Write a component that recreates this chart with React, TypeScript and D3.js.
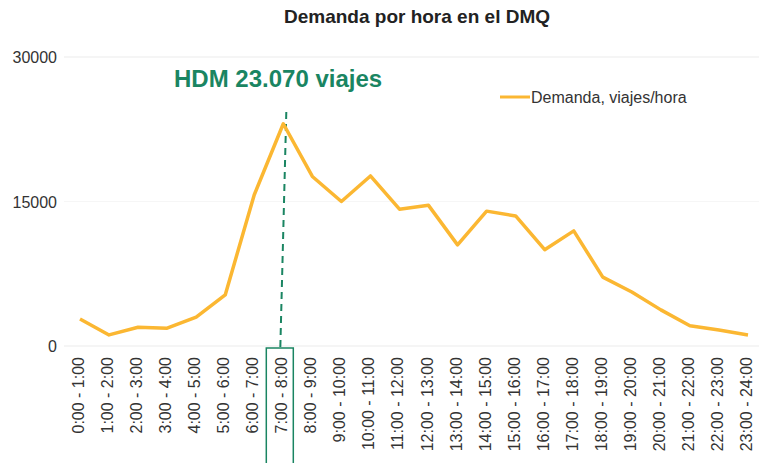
import React, { useEffect, useRef } from "react";
import * as d3 from "d3";

const horas = [
  "0:00 - 1:00", "1:00 - 2:00", "2:00 - 3:00", "3:00 - 4:00", "4:00 - 5:00",
  "5:00 - 6:00", "6:00 - 7:00", "7:00 - 8:00", "8:00 - 9:00", "9:00 - 10:00",
  "10:00 - 11:00", "11:00 - 12:00", "12:00 - 13:00", "13:00 - 14:00",
  "14:00 - 15:00", "15:00 - 16:00", "16:00 - 17:00", "17:00 - 18:00",
  "18:00 - 19:00", "19:00 - 20:00", "20:00 - 21:00", "21:00 - 22:00",
  "22:00 - 23:00", "23:00 - 24:00",
];
const demanda = [
  2800, 1150, 1950, 1850, 3000, 5300, 15700, 23070, 17600, 15000, 17650, 14200,
  14600, 10500, 14000, 13500, 10000, 11950, 7150, 5600, 3750, 2100, 1650, 1150,
];
const yTicks = [0, 15000, 30000];
const horaPico = "7:00 - 8:00";

const W = 759;
const H = 463;
const green = "#1a8562";
const orange = "#fbb732";

export default function App() {
  const ref = useRef<SVGSVGElement>(null);

  useEffect(() => {
    const svg = d3.select(ref.current);
    svg.selectAll("*").remove();

    const x = d3.scalePoint<string>().domain(horas).range([80, 748]);
    const y = d3.scaleLinear().domain([0, 30000]).range([346, 57]);

    // title
    svg.append("text")
      .attr("x", 417).attr("y", 23)
      .attr("text-anchor", "middle")
      .attr("font-size", 19).attr("font-weight", "bold")
      .attr("fill", "#222")
      .text("Demanda por hora en el DMQ");

    // gridlines + y labels
    const gy = svg.append("g");
    gy.selectAll("line").data(yTicks).join("line")
      .attr("x1", 64).attr("x2", W)
      .attr("y1", (d) => y(d)).attr("y2", (d) => y(d))
      .attr("stroke", (d) => (d === 15000 ? "#f6f6f6" : "#ebebeb"))
      .attr("stroke-width", 1);
    gy.selectAll("text").data(yTicks).join("text")
      .attr("x", 57).attr("y", (d) => y(d) + 6)
      .attr("text-anchor", "end")
      .attr("font-size", 16).attr("fill", "#333")
      .text((d) => String(d));

    // x labels
    svg.append("g").selectAll("text").data(horas).join("text")
      .attr("transform", (d) => `translate(${x(d)! + 4},357) rotate(-90)`)
      .attr("text-anchor", "end")
      .attr("font-size", 16).attr("fill", "#333")
      .text((d) => d);

    // peak marker
    const px = x(horaPico)!;
    svg.append("rect")
      .attr("x", px - 17).attr("y", 348)
      .attr("width", 27).attr("height", 130)
      .attr("fill", "none").attr("stroke", green).attr("stroke-width", 1.5);
    svg.append("line")
      .attr("x1", px + 3).attr("x2", px - 3)
      .attr("y1", 112).attr("y2", 348)
      .attr("stroke", green).attr("stroke-width", 2)
      .attr("stroke-dasharray", "7,5");

    // series
    const line = d3.line<number>()
      .x((_, i) => x(horas[i])!)
      .y((d) => y(d));
    svg.append("path")
      .datum(demanda)
      .attr("d", line)
      .attr("fill", "none")
      .attr("stroke", orange)
      .attr("stroke-width", 3.5)
      .attr("stroke-linejoin", "round");

    // annotation
    svg.append("text")
      .attr("x", 174).attr("y", 87)
      .attr("font-size", 24).attr("font-weight", "bold")
      .attr("fill", green)
      .text("HDM 23.070 viajes");

    // legend
    svg.append("line")
      .attr("x1", 500).attr("x2", 530).attr("y1", 97).attr("y2", 97)
      .attr("stroke", orange).attr("stroke-width", 3);
    svg.append("text")
      .attr("x", 531).attr("y", 103)
      .attr("font-size", 16).attr("fill", "#333")
      .text("Demanda, viajes/hora");
  }, []);

  return (
    <svg
      ref={ref}
      width={W}
      height={H}
      style={{ position: "absolute", left: 0, top: 0, fontFamily: "'Liberation Sans', Arial, sans-serif", background: "#fff" }}
    />
  );
}
